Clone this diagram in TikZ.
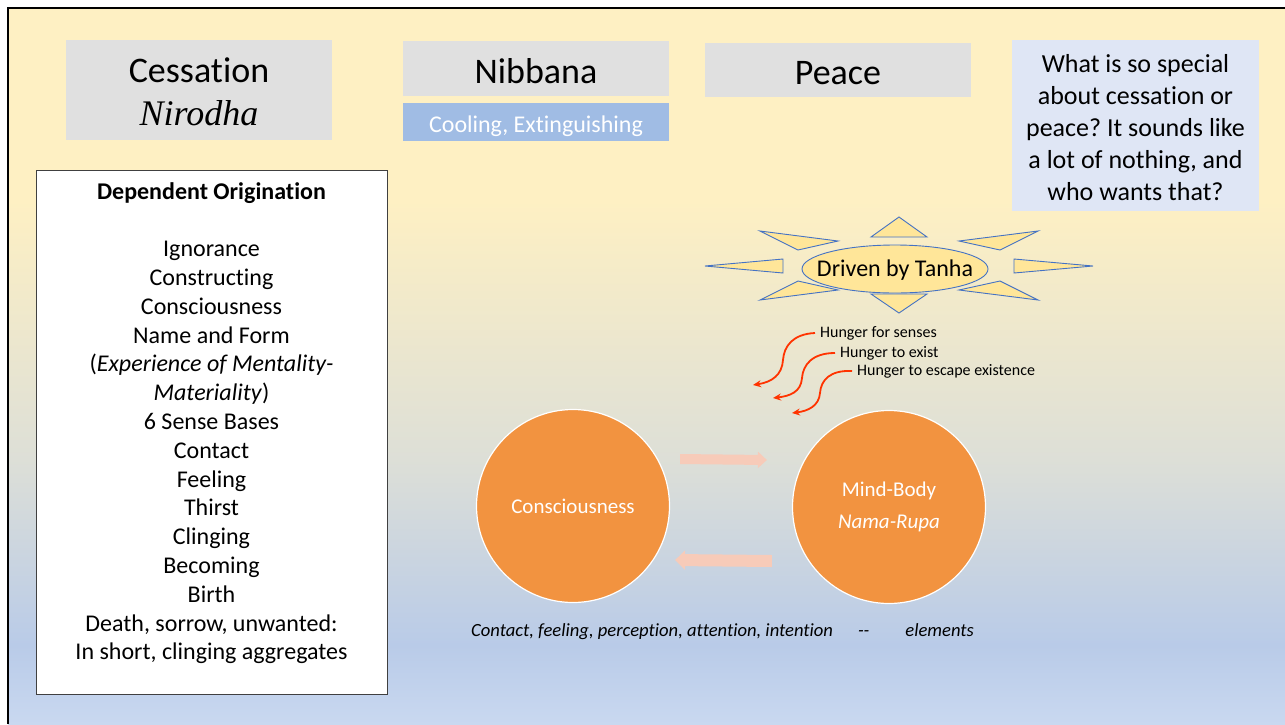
\documentclass[tikz,border=0pt]{standalone}
\usepackage{fontspec}
\setmainfont{Carlito}[Ligatures={NoCommon}]
\newfontfamily\nirfont{Liberation Serif}
\usepackage{xcolor}
\usepackage{tikz}
\usetikzlibrary{positioning, arrows.meta, shapes.geometric}
\definecolor{bgtop}{RGB}{254,240,195}
\definecolor{bgmid}{RGB}{221,223,215}
\definecolor{bgblue}{RGB}{185,203,232}
\definecolor{bgbot}{RGB}{201,216,240}
\definecolor{boxgray}{RGB}{224,224,224}
\definecolor{coolblue}{RGB}{160,188,228}
\definecolor{questblue}{RGB}{223,230,245}
\definecolor{sunfill}{RGB}{255,230,153}
\definecolor{sunline}{RGB}{68,114,196}
\definecolor{hungred}{RGB}{255,51,0}
\definecolor{circorange}{RGB}{242,147,64}
\definecolor{flowpale}{RGB}{247,203,185}
\definecolor{boxedge}{RGB}{64,64,64}
\pgfdeclareverticalshading{slidebg}{100bp}{color(0bp)=(bgbot); color(25bp)=(bgbot);
  color(30.5bp)=(bgblue); color(43.5bp)=(bgmid); color(61.6bp)=(bgtop);
  color(75bp)=(bgtop); color(100bp)=(bgtop)}
\newcommand{\nudge}[2]{\raisebox{-#1}[\height][\depth]{#2}}
\frenchspacing

\begin{document}
\begin{tikzpicture}[x=1pt, y=-1pt, every node/.style={inner sep=2pt},
  titlebox/.style={fill=boxgray, minimum width=266pt, align=center,
    font=\fontsize{36}{43}\selectfont},
  depbox/.style={draw=boxedge, fill=white, line width=0.8pt,
    minimum width=351pt, minimum height=524pt},
  sunray/.style={fill=sunfill, draw=sunline, line width=0.9pt},
  hunger/.style={font=\fontsize{16}{19}\selectfont, anchor=west, inner sep=1pt},
  pull/.style={-{Stealth[length=8pt,width=7pt]}, hungred, line width=1.8pt},
  cycnode/.style={circle, fill=circorange, draw=white, line width=1.2pt,
    minimum size=193pt, text=white, align=center, font=\fontsize{21}{32}\selectfont},
  flow/.style={flowpale, line width=10pt, -{Triangle[length=9pt,width=16pt]}}]
\useasboundingbox (0,0) rectangle (1285,724);
% slide background
\shade[shading=slidebg] (8,8) rectangle (1285,724);
\draw[line width=2.5pt] (8,724) -- (8,8) -- (1285,8);

% title boxes
\node[titlebox, minimum height=100pt] (cess) at (199,90)
  {\nudge{2pt}{Cessation}\\\nudge{2pt}{\nirfont\itshape Nirodha}};
\node[titlebox, minimum height=55pt] (nib) at (536,68.5) {\nudge{3pt}{Nibbana}};
\node[fill=coolblue, minimum width=266pt, minimum height=38pt, text=white,
  font=\fontsize{24}{29}\selectfont, below=7pt of nib] (cool)
  {\nudge{4pt}{Cooling, Extinguishing}};
\node[titlebox, minimum height=54pt] (peace) at (838,70) {\nudge{3pt}{Peace}};
\node[fill=questblue, minimum width=247pt, minimum height=171pt, align=center,
  font=\fontsize{26}{32}\selectfont] (quest) at (1135.5,125.5)
  {\nudge{2pt}{What is so special}\\\nudge{2pt}{about cessation or}\\
   \nudge{2pt}{peace? It sounds like}\\\nudge{2pt}{a lot of nothing, and}\\
   \nudge{2pt}{who wants that?}};

% dependent origination list
\node[depbox] (dep) at (211.5,432) {};
\node[anchor=north, align=center, inner sep=0pt, font=\fontsize{24}{28.8}\selectfont]
  (deplist) at (211.5,182)
  {\textbf{Dependent Origination}\\[28.8pt]
   Ignorance\\Constructing\\Consciousness\\Name and Form\\
   (\textit{Experience of Mentality-}\\\textit{Materiality})\\
   6 Sense Bases\\Contact\\Feeling\\Thirst\\Clinging\\Becoming\\Birth\\
   Death, sorrow, unwanted:\\In short, clinging aggregates};

% tanha sun
\foreach \ax/\ay/\bx/\by/\cx/\cy in {899/217/871/237/927/237, 899/313/871/294/927/294,
    705/266/783/259/783/273, 1093/266/1014/259/1014/273,
    760/231/838/241/798/250, 1038/231/959/241/1000/250,
    760/300/838/290/798/281, 1038/300/959/290/1000/281}
  \filldraw[sunray] (\ax,\ay) -- (\bx,\by) -- (\cx,\cy) -- cycle;
\node[ellipse, sunray, minimum width=186pt, minimum height=48pt, inner sep=0pt,
  font=\fontsize{24}{29}\selectfont] (tanha) at (895,269)
  {\makebox[0pt]{\nudge{1pt}{Driven by Tanha}}};

% the three hungers
\node[hunger] (h1) at (819,333) {Hunger for senses};
\node[hunger] (h2) at (839,353) {Hunger to exist};
\node[hunger] (h3) at (856,371) {Hunger to escape existence};
\coordinate (a1) at (753,385);
\coordinate (a2) at (773,398);
\coordinate (a3) at (792,413);
\draw[pull] ([xshift=-4pt]h1.west) .. controls (793,334) and (784,346) .. (783,360)
  .. controls (782,375) and (772,382) .. (a1);
\draw[pull] ([xshift=-4pt]h2.west) .. controls (812,353) and (803,365) .. (802,378)
  .. controls (801,392) and (790,396) .. (a2);
\draw[pull] ([xshift=-4pt]h3.west) .. controls (830,370) and (821,380) .. (820,393)
  .. controls (819,406) and (808,411) .. (a3);

% consciousness <-> mind-body
\node[cycnode] (cons) at (573,506) {Consciousness};
\node[cycnode] (mind) at (889,507) {Mind-Body\\\textit{Nama-Rupa}};
\draw[flow] ([xshift=10pt,yshift=47pt]cons.east) -- ([xshift=-25pt,yshift=47pt]mind.west);
\draw[flow, line width=12pt, -{Triangle[length=10pt,width=19pt]}]
  ([xshift=-20pt,yshift=-54pt]mind.west) -- ([xshift=5pt,yshift=-54pt]cons.east);

\node[anchor=west, inner sep=0pt, font=\fontsize{18.6}{22}\selectfont\itshape] (elem)
  at (471,632) {Contact, feeling, perception, attention, intention\hspace*{25pt}{-}{-}\hspace*{36pt}elements};
\end{tikzpicture}
\end{document}
